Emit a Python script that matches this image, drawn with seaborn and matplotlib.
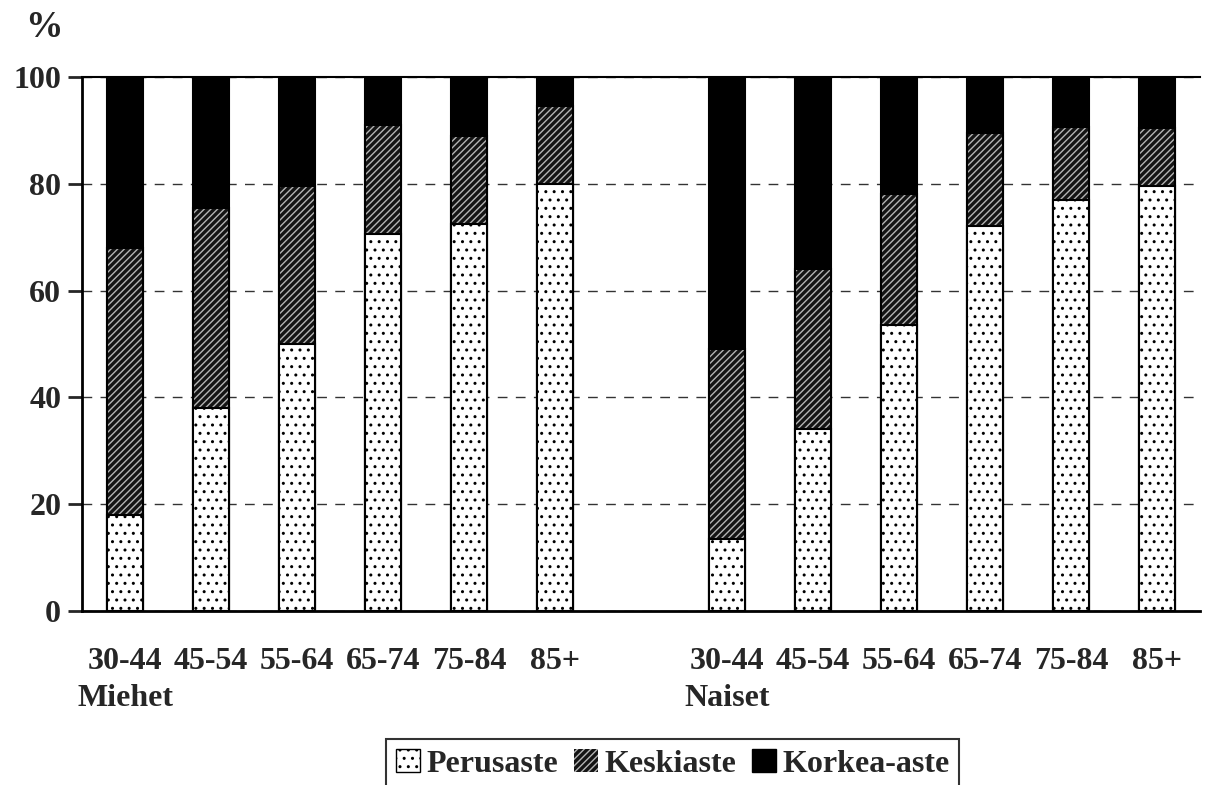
import pandas as pd
import matplotlib
matplotlib.use("Agg")
import matplotlib.pyplot as plt
import seaborn as sns
from matplotlib.patches import Patch

# Data: cumulative tops (%)
age_groups = ["30-44", "45-54", "55-64", "65-74", "75-84", "85+"]
miehet_perus = [18, 38, 50, 70.5, 72.5, 80]
miehet_keski_top = [68, 75.5, 79.5, 91, 89, 94.5]
naiset_perus = [13.5, 34, 53.5, 72, 77, 79.5]
naiset_keski_top = [49, 64, 78, 89.5, 90.6, 90.4]
legend_labels = ["Perusaste", "Keskiaste", "Korkea-aste"]

sns.set_style("white")
plt.rcParams['font.family'] = ['Liberation Serif', 'DejaVu Serif']
plt.rcParams['font.weight'] = 'bold'
plt.rcParams['hatch.linewidth'] = 1.0

keys = ["M" + a for a in age_groups] + ["gap"] + ["N" + a for a in age_groups]
df = pd.DataFrame({
    "key": ["M" + a for a in age_groups] + ["N" + a for a in age_groups],
    "perus": miehet_perus + naiset_perus,
    "keski": miehet_keski_top + naiset_keski_top,
})
df["korkea"] = 100

fig = plt.figure(figsize=(12.06, 7.85), dpi=100)
ax = fig.add_axes([0.068, 0.2217, 0.927, 0.6803])

bw = 0.42
keski_face = "#141414"
keski_hatch = "#b4b4b4"
# layered bars: tallest first
sns.barplot(data=df, x="key", y="korkea", order=keys, color="black",
            width=bw, saturation=1, edgecolor="black", linewidth=1.5, ax=ax)
n0 = len(ax.patches)
sns.barplot(data=df, x="key", y="keski", order=keys, color=keski_face,
            width=bw, saturation=1, ax=ax)
n1 = len(ax.patches)
for p in ax.patches[n0:n1]:
    p.set_edgecolor(keski_hatch)
    p.set_hatch("/////")
    p.set_linewidth(0)
sns.barplot(data=df, x="key", y="keski", order=keys, fill=False,
            width=bw, edgecolor="black", linewidth=1.5, ax=ax)
n2 = len(ax.patches)
sns.barplot(data=df, x="key", y="perus", order=keys, color="white",
            width=bw, saturation=1, ax=ax)
n3 = len(ax.patches)
for p in ax.patches[n2:n3]:
    p.set_facecolor("white")
    p.set_edgecolor("black")
    p.set_hatch("..")
    p.set_linewidth(1.5)

ax.set_ylim(0, 100)
ax.set_xlim(-0.5, 12.5)
ax.set_yticks([0, 20, 40, 60, 80, 100])
ax.yaxis.grid(True, linestyle=(0, (7, 6)), color="#333333", linewidth=1)
ax.set_axisbelow(True)

xt = []
for i, k in enumerate(keys):
    if k == "gap":
        xt.append("")
    else:
        lab = k[1:]
        if i == 0:
            lab += "\nMiehet"
        elif i == 7:
            lab += "\nNaiset"
        xt.append(lab)
ax.set_xticks(range(len(keys)))
ax.set_xticklabels(xt, fontsize=23, fontweight="bold", linespacing=1.35, va="top")
ax.tick_params(axis="x", length=0, pad=26)
ax.tick_params(axis="y", length=10, width=2, direction="out", left=True,
               labelsize=23, pad=5)
for lab in ax.get_yticklabels():
    lab.set_fontweight("bold")
ax.set_xlabel("")
ax.set_ylabel("")

for s in ["left", "bottom", "top"]:
    ax.spines[s].set_color("black")
    ax.spines[s].set_linewidth(2)
ax.spines["top"].set_linewidth(1.5)
ax.spines["right"].set_visible(False)

fig.text(0.021, 0.965, "%", fontsize=27, fontweight="bold", ha="left", va="center")

handles = [
    Patch(facecolor="white", edgecolor="black", hatch="..", linewidth=1),
    Patch(facecolor=keski_face, edgecolor=keski_hatch, hatch="/////", linewidth=0),
    Patch(facecolor="black", edgecolor="black"),
]
leg = fig.legend(handles, legend_labels, loc="upper center",
                 bbox_to_anchor=(0.558, 0.058), ncol=3, frameon=True,
                 fancybox=False, prop={"size": 23, "weight": "bold"},
                 handlelength=0.75, handleheight=0.75, handletextpad=0.2,
                 columnspacing=0.5, borderpad=0.3, borderaxespad=0)
leg.get_frame().set_edgecolor("black")
leg.get_frame().set_linewidth(1.5)

fig.savefig("out.png", dpi=100)
